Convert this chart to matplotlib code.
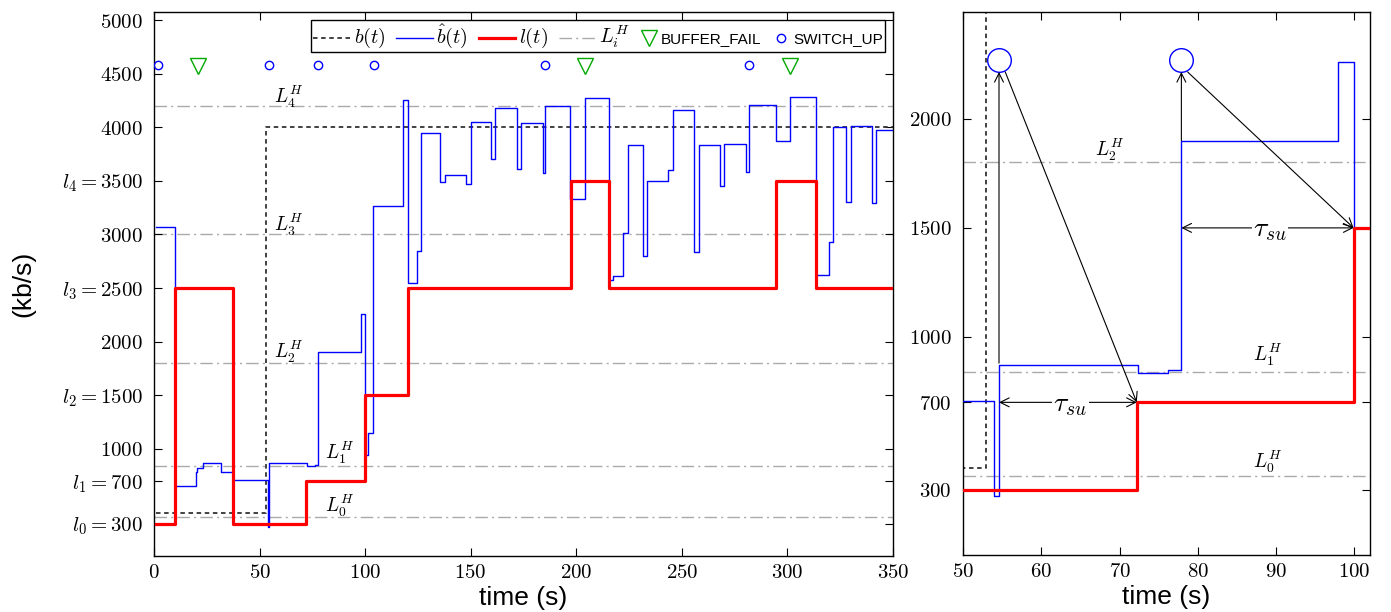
import matplotlib
matplotlib.use('Agg')
import matplotlib.pyplot as plt
from matplotlib.lines import Line2D

plt.rcParams['font.family'] = ['Liberation Sans', 'DejaVu Sans']
plt.rcParams['mathtext.fontset'] = 'cm'

# ---------------- data ----------------
b_t = [1, 53, 350]
b_v = [400, 4000, 4000]

bhat_t = [1, 10, 19.7, 20.6, 23, 31.8, 37.4, 54.0, 54.6, 72.3, 76.2, 77.9, 97.9, 100,
          101.3, 103.7, 118, 120.3, 124.4, 126.6, 135.5, 137.7, 147.6, 149.9, 159.5,
          161.5, 171.7, 174, 184, 185, 197.2, 203.9, 215.5, 217.5, 221.9, 224.4, 231.7,
          233.5, 243.5, 245.9, 255.7, 257.9, 268, 270, 280.2, 281.6, 294.4, 301.2, 313.3,
          319.5, 321.7, 327.9, 330.2, 340, 342.1, 350]
bhat_v = [3070, 650, 785, 820, 865, 780, 705, 270, 870, 835, 850, 1900, 2260, 945,
          1150, 3265, 4255, 2550, 2850, 3950, 3490, 3555, 3475, 4050, 3700,
          4180, 3615, 4040, 3575, 4200, 3335, 4270, 2575, 2615, 3010, 3835, 2795,
          3500, 3600, 4165, 2840, 3830, 3455, 3840, 3585, 4210, 3870, 4285, 2620,
          2925, 4005, 3300, 4010, 3295, 3975, 3975]

l_t = [1, 10, 37.2, 72.2, 100, 120.1, 197.3, 215.6, 294.5, 313.3, 350]
l_v = [300, 2500, 300, 700, 1500, 2500, 3500, 2500, 3500, 2500, 2500]

thresholds = [360, 840, 1800, 3000, 4200]
threshold_names = [r'$L_0^H$', r'$L_1^H$', r'$L_2^H$', r'$L_3^H$', r'$L_4^H$']

switch_up_t = [2, 54.3, 77.5, 104, 185, 281.7]
switch_up_v = [4580] * 6
buffer_fail_t = [21, 204, 301]
buffer_fail_v = [4570] * 3

left_xticks = [0, 50, 100, 150, 200, 250, 300, 350]
left_yticks = [300, 700, 1000, 1500, 2000, 2500, 3000, 3500, 4000, 4500, 5000]
left_yticklabels = [r'$l_0 = 300$', r'$l_1 = 700$', r'$1000$', r'$l_2 = 1500$', r'$2000$',
                    r'$l_3 = 2500$', r'$3000$', r'$l_4 = 3500$', r'$4000$', r'$4500$', r'$5000$']
right_xticks = [50, 60, 70, 80, 90, 100]
right_yticks = [300, 700, 1000, 1500, 2000]
zoom_t_end = 100

# switch-up events highlighted in the zoom panel
zoom_su_t = [54.6, 77.9]
zoom_su_v = [2270, 2270]
zoom_bhat_at_su = [880, 1900]
zoom_switch_done_t = [72.2, 99.9]
zoom_switch_level = [700, 1500]

# ---------------- styles ----------------
BLUE = '#0000ff'
RED = '#ff0000'
GREY = '#aaaaaa'
GREEN = '#00aa00'
DASH_B = (0, (2.5, 2))
DASH_L = (0, (9, 3, 1.5, 3))

fig = plt.figure(figsize=(13.91, 6.12), dpi=100)
ax1 = fig.add_axes([154 / 1391, 56 / 612, 739 / 1391, 544 / 612])
ax2 = fig.add_axes([963 / 1391, 57 / 612, 407 / 1391, 543 / 612])


def draw_series(ax, bt, bv):
    for th in thresholds:
        ax.axhline(th, color=GREY, lw=1.0, ls=DASH_L, zorder=1)
    ax.step(b_t, b_v, where='post', color='#333333', lw=1.3, ls=DASH_B, zorder=2)
    ax.step(bt, bv, where='post', color=BLUE, lw=1.0, zorder=3)
    ax.step(l_t, l_v, where='post', color=RED, lw=2.3, zorder=4)


def style_axes(ax):
    ax.tick_params(direction='in', length=6, top=True, right=True, labelsize=15,
                   width=0.8)
    ax.tick_params(axis='y', pad=8)
    ax.tick_params(axis='x', pad=5)
    for s in ax.spines.values():
        s.set_linewidth(1.0)


# ---------------- left panel ----------------
draw_series(ax1, bhat_t, bhat_v)
ax1.plot(switch_up_t, switch_up_v, ls='none', marker='o', ms=6, mfc='none', mec=BLUE,
         mew=1.0, zorder=5)
ax1.plot(buffer_fail_t, buffer_fail_v, ls='none', marker='v', ms=11, mfc='none',
         mec=GREEN, mew=1.0, zorder=5)
ax1.set_xlim(0, 350)
ax1.set_ylim(0, 5075)
ax1.set_xticks(left_xticks)
ax1.set_xticklabels([f'${v}$' for v in left_xticks])
ax1.set_yticks(left_yticks)
ax1.set_yticklabels(left_yticklabels)
style_axes(ax1)
ax1.set_xlabel('time (s)', fontsize=19, labelpad=3)
ax1.set_ylabel('(kb/s)', fontsize=19, labelpad=19)

left_label_pos = [(88, 470), (88, 965), (64, 1900), (64, 3085), (64, 4280)]
for name, (x, y) in zip(threshold_names, left_label_pos):
    ax1.text(x, y, name, fontsize=14, ha='center', va='center')

handles = [
    Line2D([], [], color='#333333', lw=1.3, ls=DASH_B),
    Line2D([], [], color=BLUE, lw=1.0),
    Line2D([], [], color=RED, lw=2.3),
    Line2D([], [], color=GREY, lw=1.0, ls=DASH_L),
    Line2D([], [], ls='none', marker='v', ms=11, mfc='none', mec=GREEN, mew=1.0),
    Line2D([], [], ls='none', marker='o', ms=6, mfc='none', mec=BLUE, mew=1.0),
]
labels = [r'$b(t)$', r'$\hat{b}(t)$', r'$l(t)$', r'$L_i^H$', 'BUFFER_FAIL', 'SWITCH_UP']
LEG_FS = 11
leg = ax1.legend(handles, labels, loc='upper right', ncol=6, fontsize=LEG_FS,
                 frameon=True, fancybox=False, edgecolor='black', framealpha=1,
                 handlelength=2.4, handletextpad=0.25, columnspacing=0.7,
                 borderpad=0.15, borderaxespad=0,
                 bbox_to_anchor=(1 - 8 / 739, 1 - 8 / 544))
leg.get_frame().set_linewidth(1.0)
for txt in leg.get_texts()[:4]:
    txt.set_fontsize(14.5)
# make marker-only entries use a short handle box
try:
    cols = leg._legend_handle_box.get_children()
    for idx, col in enumerate(cols):
        for item in col.get_children():
            da = item.get_children()[0]
            if idx >= 4:
                new_w = 1.1 * LEG_FS
                for art in da.get_children():
                    xd = art.get_xdata()
                    if len(xd) == 3:
                        art.set_xdata([0, new_w / 2, new_w])
                da.width = new_w
except Exception:
    pass

# ---------------- right panel ----------------
zb_t = [t for t in bhat_t if t <= zoom_t_end]
zb_v = bhat_v[:len(zb_t)]
draw_series(ax2, zb_t, zb_v)
ax2.set_xlim(50, 102)
ax2.set_ylim(0, 2490)
ax2.set_xticks(right_xticks)
ax2.set_xticklabels([f'${v}$' for v in right_xticks])
ax2.set_yticks(right_yticks)
ax2.set_yticklabels([f'${v}$' for v in right_yticks])
style_axes(ax2)
ax2.set_xlabel('time (s)', fontsize=19, labelpad=3)

right_label_pos = [(89, 427), (89, 918), (68.7, 1858)]
for name, (x, y) in zip(threshold_names[:3], right_label_pos):
    ax2.text(x, y, name, fontsize=14, ha='center', va='center')

ax2.plot(zoom_su_t, zoom_su_v, ls='none', marker='o', ms=17, mfc='none', mec=BLUE,
         mew=1.0, zorder=6)

arrow = dict(arrowstyle='->', color='black', lw=0.8, shrinkA=0, shrinkB=0,
             mutation_scale=16)
darrow = dict(arrowstyle='<->', color='black', lw=0.8, shrinkA=0, shrinkB=0,
              mutation_scale=16)
for t0, v0, t1, lv, cy in zip(zoom_su_t, zoom_bhat_at_su, zoom_switch_done_t,
                              zoom_switch_level, zoom_su_v):
    ax2.annotate('', xy=(t0, cy - 55), xytext=(t0, v0), arrowprops=arrow, zorder=7)
    ax2.annotate('', xy=(t1, lv), xytext=(t0 + 0.8, cy - 55), arrowprops=arrow, zorder=7)
    ax2.annotate('', xy=(t1, lv), xytext=(t0, lv), arrowprops=darrow, zorder=7)
    ax2.text((t0 + t1) / 2 + 0.3, lv - 10, r'$\tau_{su}$', fontsize=20, ha='center',
             va='center', zorder=8,
             bbox=dict(facecolor='white', edgecolor='none', pad=1))

fig.savefig('out.png', dpi=100)
